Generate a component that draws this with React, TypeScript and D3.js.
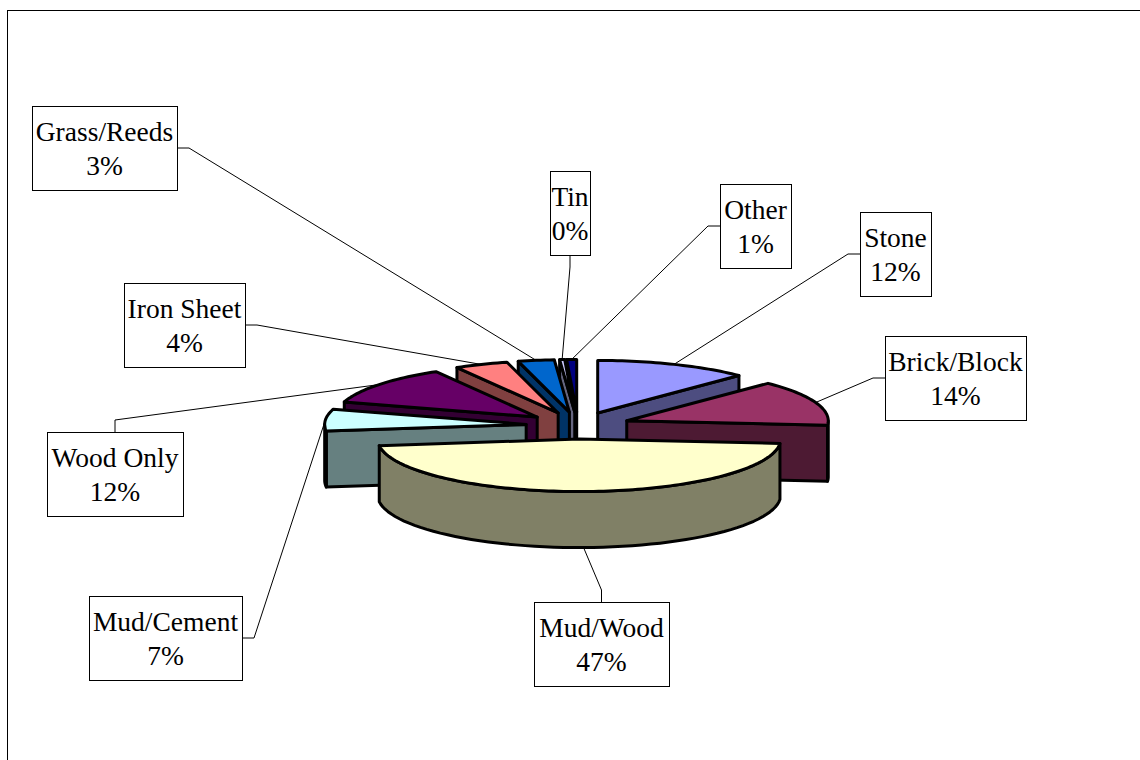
import * as d3 from 'd3';
import { useEffect, useRef } from 'react';

const categories = ['Stone', 'Brick/Block', 'Mud/Wood', 'Mud/Cement', 'Wood Only', 'Iron Sheet', 'Grass/Reeds', 'Tin', 'Other'];
const shares = [12.4, 14, 46.8, 6.7, 12, 4.3, 2.9, 0.4, 0.8];
const percentLabels = ['12%', '14%', '47%', '7%', '12%', '4%', '3%', '0%', '1%'];
const topColors = ['#9999ff', '#993366', '#ffffcc', '#ccffff', '#660066', '#ff8080', '#0066cc', '#ccccff', '#000080'];
const sideColors = ['#4d4d80', '#4d1a33', '#808066', '#668080', '#330033', '#804040', '#003366', '#666680', '#000040'];

// label boxes, [x, y, width, height]
const labelBoxes = [
  [860, 212, 71, 84],
  [885, 336, 141, 84],
  [534, 602, 135, 84],
  [89, 596, 153, 84],
  [47, 432, 136, 84],
  [124, 283, 121, 84],
  [32, 106, 145, 84],
  [550, 171, 40, 84],
  [720, 184, 71, 84],
];
// where the leader leaves the box: left, right, top or bottom edge
const leaderSides = ['l', 'l', 't', 'r', 't', 'r', 'r', 'b', 'l'];

const width = 1140;
const height = 760;
const cx = 578;
const cy = 425.5;
const rx = 201.5;
const ry = 52.5;
const depth = 56;
const explode = 52;

type Pt = [number, number];

export default function App() {
  const ref = useRef<SVGSVGElement>(null);

  useEffect(() => {
    if (!ref.current) return;
    const svg = d3.select(ref.current);
    svg.selectAll('*').remove();

    svg
      .append('rect')
      .attr('x', 7.5)
      .attr('y', 10.5)
      .attr('width', width + 20)
      .attr('height', height + 20)
      .attr('fill', '#fff')
      .attr('stroke', '#000')
      .attr('stroke-width', 1);

    const arcs = d3
      .pie<number>()
      .sort(null)
      .value((d) => d)(shares);

    const line = d3.line<Pt>();
    const slices = arcs.map((a, i) => {
      const mid = (a.startAngle + a.endAngle) / 2;
      const ax = cx + explode * Math.sin(mid);
      const ay = cy - explode * (ry / rx) * Math.cos(mid);
      const rim = (t: number): Pt => [ax + rx * Math.sin(t), ay - ry * Math.cos(t)];
      return { i, a, mid, ax, ay, rim };
    });

    const pie = svg.append('g').attr('stroke', '#000').attr('stroke-width', 3).attr('stroke-linejoin', 'round');

    // back slices first
    [...slices]
      .sort((p, q) => d3.ascending(p.ay, q.ay))
      .forEach(({ i, a, ax, ay, rim }) => {
        const apex: Pt = [ax, ay];
        const down = (p: Pt): Pt => [p[0], p[1] + depth];
        const wall = (p: Pt) => {
          pie.append('path').attr('fill', sideColors[i]).attr('d', line([apex, p, down(p), down(apex)]) + 'Z');
        };
        if (a.startAngle > Math.PI) wall(rim(a.startAngle));
        if (a.endAngle < Math.PI) wall(rim(a.endAngle));

        // outer wall, only where the rim faces the viewer
        const t0 = Math.max(a.startAngle, Math.PI / 2);
        const t1 = Math.min(a.endAngle, (3 * Math.PI) / 2);
        if (t1 > t0) {
          const pts = d3.range(0, 61).map((k) => rim(t0 + ((t1 - t0) * k) / 60));
          pie
            .append('path')
            .attr('fill', sideColors[i])
            .attr('d', line([...pts, ...pts.map(down).reverse()]) + 'Z');
        }

        const n = Math.max(4, Math.ceil((a.endAngle - a.startAngle) * 40));
        const top = d3.range(0, n + 1).map((k) => rim(a.startAngle + ((a.endAngle - a.startAngle) * k) / n));
        pie
          .append('path')
          .attr('fill', topColors[i])
          .attr('d', line([apex, ...top]) + 'Z');
      });

    const leaders = svg.append('g').attr('fill', 'none').attr('stroke', '#000').attr('stroke-width', 1);
    const labels = svg.append('g').attr('font-family', '"Liberation Serif", serif').attr('font-size', 27.5).attr('text-anchor', 'middle');

    slices.forEach(({ i, mid, rim }) => {
      const [x, y, w, h] = labelBoxes[i];
      const side = leaderSides[i];
      let start: Pt;
      let elbow: Pt;
      if (side === 'l') {
        start = [x, y + h / 2];
        elbow = [x - 12, y + h / 2];
      } else if (side === 'r') {
        start = [x + w, y + h / 2];
        elbow = [x + w + 12, y + h / 2];
      } else if (side === 't') {
        start = [x + w / 2, y];
        elbow = [x + w / 2, y - 12];
      } else {
        start = [x + w / 2, y + h];
        elbow = [x + w / 2, y + h + 12];
      }
      const end = rim(mid);
      if (Math.cos(mid) < 0) end[1] += depth;
      leaders.append('path').attr('d', line([start, elbow, end]));

      labels
        .append('rect')
        .attr('x', x + 0.5)
        .attr('y', y + 0.5)
        .attr('width', w)
        .attr('height', h)
        .attr('fill', '#fff')
        .attr('stroke', '#000')
        .attr('stroke-width', 1);
      labels.append('text').attr('x', x + w / 2).attr('y', y + 35).text(categories[i]);
      labels.append('text').attr('x', x + w / 2).attr('y', y + 69).text(percentLabels[i]);
    });
  }, []);

  return <svg ref={ref} width={width} height={height} style={{ position: 'fixed', left: 0, top: 0, display: 'block' }} />;
}
